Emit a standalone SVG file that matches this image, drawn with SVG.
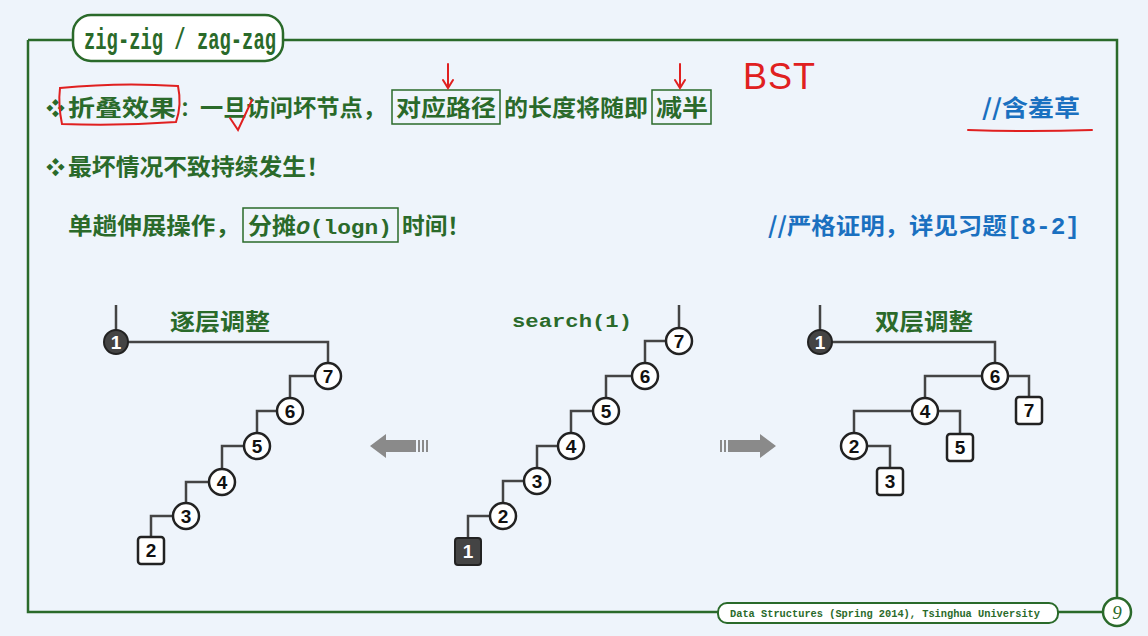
<svg xmlns="http://www.w3.org/2000/svg" width="1148" height="636" viewBox="0 0 1148 636">
<style>
.g{fill:#2a6a2a;font-family:"Noto Sans CJK SC","Liberation Sans",sans-serif;font-weight:bold;font-size:23px}
.b{fill:#1a70c0;font-family:"Noto Sans CJK SC","Liberation Sans",sans-serif;font-weight:bold;font-size:23px}
.mono{font-family:"Liberation Mono","DejaVu Sans Mono",monospace;font-weight:bold}
.fr{fill:none;stroke:#2a6a2a;stroke-width:2.5}
.box{fill:none;stroke:#2a6a2a;stroke-width:1.5}
.red{fill:none;stroke:#e02020;stroke-width:2;stroke-linecap:round}
.e{fill:none;stroke:#444;stroke-width:2.5}
.c{fill:#fff;stroke:#222;stroke-width:2.5}
.d{fill:#444;stroke:#222;stroke-width:2}
.n{font-family:"Liberation Sans",sans-serif;font-weight:bold;font-size:19px;text-anchor:middle;fill:#111}
.nw{font-family:"Liberation Sans",sans-serif;font-weight:bold;font-size:19px;text-anchor:middle;fill:#fff}
</style>
<rect width="1148" height="636" fill="#eef4fb"/>
<g id="frame">
<path class="fr" d="M28 40H75M282 40H1117V600M718 612H28V40M1057 612H1103"/>
<rect x="73" y="15" width="210" height="46" rx="18" fill="#fff" stroke="#2a6a2a" stroke-width="2.5"/>
<text x="84" y="49" class="mono" font-size="30" fill="#2a6a2a" textLength="192" lengthAdjust="spacingAndGlyphs">zig-zig / zag-zag</text>
<rect x="718" y="603" width="340" height="20" rx="9" fill="#fff" stroke="#2a6a2a" stroke-width="2"/>
<text x="730" y="617" class="mono" font-size="11" fill="#2a6a2a" textLength="310" lengthAdjust="spacingAndGlyphs">Data Structures (Spring 2014), Tsinghua University</text>
<circle cx="1117" cy="612" r="14" fill="#fff" stroke="#2a6a2a" stroke-width="2.5"/>
<text x="1117" y="619" font-family="Liberation Serif,serif" font-style="italic" font-size="19" fill="#2a6a2a" text-anchor="middle">9</text>
</g>
<g id="text">
<text x="46" y="116" class="g" style="font-size:19px">❖</text>
<text x="68" y="116" class="g" textLength="108" lengthAdjust="spacingAndGlyphs">折叠效果</text>
<text x="180" y="116" class="g" style="font-size:20px">：</text>
<text x="200" y="116" class="g" textLength="186" lengthAdjust="spacingAndGlyphs">一旦访问坏节点，</text>
<text x="396" y="116" class="g" textLength="100" lengthAdjust="spacingAndGlyphs">对应路径</text>
<text x="504" y="116" class="g" textLength="144" lengthAdjust="spacingAndGlyphs">的长度将随即</text>
<text x="656" y="116" class="g" textLength="52" lengthAdjust="spacingAndGlyphs">减半</text>
<rect class="box" x="392" y="90" width="108" height="34"/>
<rect class="box" x="652" y="90" width="59" height="34"/>
<text x="46" y="175" class="g" style="font-size:19px">❖</text>
<text x="68" y="175" class="g" textLength="262" lengthAdjust="spacingAndGlyphs">最坏情况不致持续发生！</text>
<text x="68" y="234" class="g" textLength="172" lengthAdjust="spacingAndGlyphs">单趟伸展操作，</text>
<text x="248" y="234" class="g" textLength="48" lengthAdjust="spacingAndGlyphs">分摊</text>
<text x="296" y="234" class="g mono" textLength="96" lengthAdjust="spacingAndGlyphs" style="font-size:21px"><tspan font-style="italic">O</tspan>(logn)</text>
<text x="402" y="234" class="g" textLength="68" lengthAdjust="spacingAndGlyphs">时间！</text>
<rect class="box" x="243" y="208" width="155" height="34"/>
<text x="982" y="116" class="b" textLength="98" lengthAdjust="spacingAndGlyphs">//含羞草</text>
<text x="768" y="234" class="b" textLength="312" lengthAdjust="spacingAndGlyphs">//严格证明，详见习题<tspan class="mono">[8-2]</tspan></text>
<text x="170" y="330" class="g" textLength="100" lengthAdjust="spacingAndGlyphs">逐层调整</text>
<text x="875" y="330" class="g" textLength="98" lengthAdjust="spacingAndGlyphs">双层调整</text>
<text x="512" y="327" class="mono" font-size="19" fill="#2a6a2a" textLength="120" lengthAdjust="spacingAndGlyphs">search(1)</text>
</g>
<g id="annotations">
<path class="red" d="M60 88Q120 82 178 86Q182 105 176 122Q120 126 62 124Q58 105 60 88Z"/>
<path class="red" d="M230 118L238 130L252 100"/>
<path class="red" d="M448 64V88M443 80L448 88L453 80M680 64V88M675 80L680 88L685 80"/>
<text x="743" y="89" font-family="Liberation Sans,sans-serif" font-size="36" fill="#e02020" textLength="72">BST</text>
<path class="red" d="M968 130Q1030 132 1092 130"/>
</g>
<g id="arrows" fill="#8a8a8a">
<path d="M370 446L386 434V440H416V452H386V458Z"/><rect x="418" y="440" width="2" height="12"/><rect x="422" y="440" width="2" height="12"/><rect x="426" y="440" width="2" height="12"/>
<path d="M776 446L760 434V440H730V452H760V458Z"/><rect x="720" y="440" width="2" height="12"/><rect x="724" y="440" width="2" height="12"/><rect x="728" y="440" width="2" height="12"/>
</g>
<g id="connectors">
<path class="e" d="M116 305V330M128 342H328V363M315 376H290V398M277 411H257V433M244 446H222V469M209 482H186V503M173 516H151V538"/>
<path class="e" d="M679 305V328M666 341H645V363M632 376H606V398M593 411H571V433M558 446H537V468M524 481H503V503M490 516H468V538"/>
<path class="e" d="M820 305V330M832 342H995V363M982 376H925V398M1008 376H1029V397M912 411H854V433M938 411H960V434M867 446H890V468"/>
</g>
<g id="n-left">
<circle class="d" cx="116" cy="342" r="12"/><text class="nw" x="116" y="349">1</text>
<circle class="c" cx="328" cy="376" r="13"/><text class="n" x="328" y="383">7</text>
<circle class="c" cx="290" cy="411" r="13"/><text class="n" x="290" y="418">6</text>
<circle class="c" cx="257" cy="446" r="13"/><text class="n" x="257" y="453">5</text>
<circle class="c" cx="222" cy="482" r="13"/><text class="n" x="222" y="489">4</text>
<circle class="c" cx="186" cy="516" r="13"/><text class="n" x="186" y="523">3</text>
<rect class="c" x="138" y="537" width="26" height="27" rx="3"/><text class="n" x="151" y="557">2</text>
</g>
<g id="n-mid">
<circle class="c" cx="679" cy="341" r="13"/><text class="n" x="679" y="348">7</text>
<circle class="c" cx="645" cy="376" r="13"/><text class="n" x="645" y="383">6</text>
<circle class="c" cx="606" cy="411" r="13"/><text class="n" x="606" y="418">5</text>
<circle class="c" cx="571" cy="446" r="13"/><text class="n" x="571" y="453">4</text>
<circle class="c" cx="537" cy="481" r="13"/><text class="n" x="537" y="488">3</text>
<circle class="c" cx="503" cy="516" r="13"/><text class="n" x="503" y="523">2</text>
<rect class="d" x="455" y="538" width="26" height="27" rx="3"/><text class="nw" x="468" y="558">1</text>
</g>
<g id="n-right">
<circle class="d" cx="820" cy="342" r="12"/><text class="nw" x="820" y="349">1</text>
<circle class="c" cx="995" cy="376" r="13"/><text class="n" x="995" y="383">6</text>
<rect class="c" x="1016" y="397" width="26" height="27" rx="3"/><text class="n" x="1029" y="417">7</text>
<circle class="c" cx="925" cy="411" r="13"/><text class="n" x="925" y="418">4</text>
<rect class="c" x="947" y="434" width="26" height="27" rx="3"/><text class="n" x="960" y="454">5</text>
<circle class="c" cx="854" cy="446" r="13"/><text class="n" x="854" y="453">2</text>
<rect class="c" x="877" y="468" width="26" height="27" rx="3"/><text class="n" x="890" y="488">3</text>
</g>
</svg>
